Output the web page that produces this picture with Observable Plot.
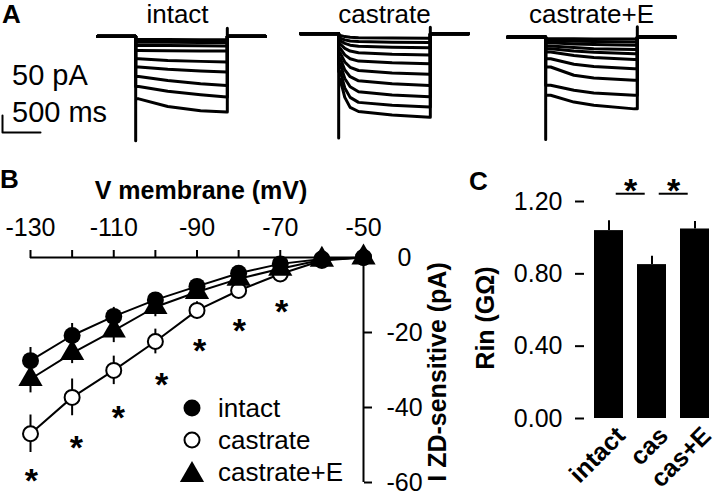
<!DOCTYPE html>
<html><head><meta charset="utf-8">
<script src="https://cdn.jsdelivr.net/npm/d3@7"></script>
<script src="https://cdn.jsdelivr.net/npm/@observablehq/plot@0.6"></script>
<style>
html,body{margin:0;padding:0;background:#fff;}
#root{position:relative;width:720px;height:492px;overflow:hidden;font-family:Arial,"Liberation Sans",sans-serif;color:#000;}
#root > *{position:absolute;}
.legend{left:179px;top:392px;font-size:26px;}
.legend .row{display:flex;align-items:center;height:32px;}
.legend svg{width:26px;height:26px;margin-right:13px;}
</style></head><body><div id="root"></div>
<script>
const FONT = 'Arial, "Liberation Sans", sans-serif';

// ---------- Panel A: current traces (pA vs ms) ----------
const conditions = ["intact", "castrate", "castrate+E"];
const traceStart = -500, stepStart = 0, stepEnd = 1200, traceEnd = 1700;
const baselines = [0, 0.9, -0.2];
const onsetSpike = [-35.4, -35.4, -34.8];
const offsetSpike = [2.7, 2.2, 3.4];

const intactTimes = [40, 420, 850, 1190];
const intactLevels = [
  [-1.1, -1.1, -1.2, -1.2],
  [-2.0, -2.0, -2.1, -2.1],
  [-3.1, -3.1, -3.2, -3.3],
  [-4.8, -4.9, -5.0, -5.0],
  [-7.6, -8.2, -8.5, -8.7],
  [-10.4, -11.2, -11.8, -12.1],
  [-13.6, -15.0, -16.1, -16.7],
  [-17.0, -18.6, -19.8, -20.6],
  [-21.2, -23.8, -25.2, -25.7]
];
const castrateTimes = [20, 80, 150, 260, 700, 1190];
const castrateLevels = [
  [-0.6, -1.0, -1.2, -1.4, -1.5, -1.6],
  [-1.5, -2.1, -2.5, -2.7, -2.9, -3.0],
  [-2.4, -3.3, -3.9, -4.3, -4.6, -4.8],
  [-3.5, -5.0, -5.9, -6.5, -7.0, -7.2],
  [-5.0, -7.2, -8.5, -9.3, -9.9, -10.2],
  [-6.6, -9.6, -11.4, -12.5, -13.3, -13.8],
  [-8.4, -12.3, -14.6, -16.0, -17.0, -17.6],
  [-10.4, -15.2, -18.0, -19.7, -20.8, -21.4],
  [-12.8, -18.4, -21.6, -23.3, -24.3, -24.9],
  [-15.5, -21.6, -25.0, -26.4, -27.6, -28.3]
];
const castrateETimes = [65, 370, 630, 1160];
const castrateELevels = [
  [-0.6, -0.6, -0.7, -0.7],
  [-1.4, -1.5, -1.6, -1.7],
  [-2.0, -2.4, -2.6, -2.8],
  [-3.1, -3.6, -4.0, -4.3],
  [-4.0, -4.8, -5.2, -5.7],
  [-5.1, -6.3, -7.0, -7.7],
  [-7.4, -9.3, -10.0, -10.8],
  [-10.2, -13.0, -13.9, -14.7],
  [-16.4, -18.1, -19.0, -19.8],
  [-19.8, -22.1, -23.2, -24.4]
];
const scaleBarPA = 50, scaleBarMs = 500;

// ---------- Panel B: I-V ----------
const voltages = [-130, -120, -110, -100, -90, -80, -70, -60, -50];
const xTickLabels = [-130, -110, -90, -70, -50];
const yTicksB = [0, -20, -40, -60];
const intactI = [-27.5, -20.8, -15.7, -11.3, -7.7, -4.2, -1.7, -0.4, 0];
const intactSem = [3.5, 3.2, 2.4, 1.9, 1.6, 1.3, 1.0, 0.8, 0];
const castrateI = [-47.0, -37.3, -30.1, -22.4, -14.1, -8.8, -4.4, -0.8, 0];
const castrateSem = [5.0, 4.9, 3.8, 3.3, 2.3, 1.8, 1.4, 0.8, 0];
const castrateEI = [-32.4, -25.5, -19.5, -13.2, -9.2, -5.7, -3.0, -0.6, 0];
const castrateESem = [3.7, 2.8, 3.2, 2.6, 1.8, 1.4, 1.1, 0.8, 0];
const starV = [-129.8, -119, -108.9, -98.5, -89.4, -79.8, -69.7];
const starI = [-57.6, -48.8, -40.8, -32.0, -22.9, -17.6, -12.3];

// ---------- Panel C: input resistance ----------
const groups = ["intact", "cas", "cas+E"];
const rin = [1.039, 0.851, 1.048];
const rinSem = [0.055, 0.046, 0.042];
const yTicksC = [0, 0.4, 0.8, 1.2];
const sigFrom = ["intact", "cas"];
const sigLineY = 1.243, sigStarY = 1.304;

// ---------- build ----------
const root = document.getElementById("root");
const baseStyle = `background:transparent;overflow:visible;font-family:${FONT};font-size:25px;color:black;`;
function place(el, left, top) { el.style.position = "absolute"; el.style.left = left + "px"; el.style.top = top + "px"; root.appendChild(el); }

function traceRows(times, levels, base, down, up) {
  const rows = [];
  levels.forEach((lv, i) => {
    const last = i === levels.length - 1;
    const pts = [[traceStart, base], [stepStart, base]];
    if (last) pts.push([stepStart, base + down]);
    pts.push([stepStart, base + lv[0]]);
    times.forEach((t, j) => pts.push([t, base + lv[j]]));
    pts.push([stepEnd, base + lv[lv.length - 1]]);
    if (last) pts.push([stepEnd, base + up]);
    pts.push([stepEnd, base], [traceEnd, base]);
    pts.forEach(([t, v]) => rows.push({trace: i, t, v}));
  });
  return rows;
}
const traceSets = [
  traceRows(intactTimes, intactLevels, baselines[0], onsetSpike[0], offsetSpike[0]),
  traceRows(castrateTimes, castrateLevels, baselines[1], onsetSpike[1], offsetSpike[1]),
  traceRows(castrateETimes, castrateELevels, baselines[2], onsetSpike[2], offsetSpike[2])
];
const traceLefts = [97, 300, 507];
const titleShift = [-4, 0, 0];
conditions.forEach((name, k) => {
  const p = Plot.plot({
    width: 168, height: 146, marginLeft: 0, marginRight: 0, marginTop: 24, marginBottom: 4,
    x: {domain: [traceStart, traceEnd], axis: null},
    y: {domain: [-36, 4], axis: null},
    style: baseStyle,
    marks: [
      Plot.line(traceSets[k], {x: "t", y: "v", z: "trace", stroke: "black", strokeWidth: 3}),
      Plot.text([name], {text: d => d, frameAnchor: "top", lineAnchor: "middle", textAnchor: "middle", dx: titleShift[k], dy: -10, fontSize: 26})
    ]
  });
  place(p, traceLefts[k], 0);
});

// scale bar
const sb = Plot.plot({
  width: 60, height: 40, marginLeft: 2, marginRight: 20, marginTop: 15, marginBottom: 8,
  x: {domain: [0, scaleBarMs], axis: null},
  y: {domain: [0, scaleBarPA], axis: null},
  style: baseStyle,
  marks: [Plot.line([[0, scaleBarPA], [0, 0], [scaleBarMs, 0]], {stroke: "black", strokeWidth: 2})]
});
place(sb, 0, 100);

// Panel B
function ivRows(I, S) { return voltages.map((v, i) => ({v, i: I[i], s: S[i]})); }
const rowsIntact = ivRows(intactI, intactSem);
const rowsCast = ivRows(castrateI, castrateSem);
const rowsCastE = ivRows(castrateEI, castrateESem);
const stars = starV.map((v, i) => ({v, i: starI[i]}));
const errs = rows => Plot.ruleX(rows, {x: "v", y1: d => d.i - d.s, y2: d => d.i + d.s, stroke: "black", strokeWidth: 2});
const pB = Plot.plot({
  width: 480, height: 332, marginLeft: 30, marginRight: 117, marginTop: 97, marginBottom: 10,
  x: {domain: [-130, -50], label: null},
  y: {domain: [-60, 0], label: null},
  style: baseStyle,
  marks: [
    Plot.ruleY([0], {stroke: "black", strokeWidth: 2}),
    Plot.ruleX([-50], {stroke: "black", strokeWidth: 2}),
    Plot.axisX({anchor: "top", ticks: voltages, tickSize: 8, tickFormat: () => "", strokeWidth: 2, label: null}),
    Plot.axisX({anchor: "top", ticks: xTickLabels, tickSize: 0, tickPadding: 22, tickFormat: d => String(d), fontSize: 25, label: null}),
    Plot.axisY({anchor: "right", ticks: yTicksB, tickSize: 8, tickPadding: 33, textAnchor: "middle", tickFormat: d => String(d), fontSize: 25, strokeWidth: 2, label: null}),
    Plot.text(["V membrane (mV)"], {text: d => d, frameAnchor: "top", dx: 4, dy: -76, fontSize: 25, fontWeight: "bold"}),
    Plot.text(["I ZD-sensitive (pA)"], {text: d => d, frameAnchor: "right", textAnchor: "middle", lineAnchor: "middle", rotate: -90, dx: 74, dy: 2, fontSize: 25, fontWeight: "bold"}),
    Plot.line(rowsCast, {x: "v", y: "i", stroke: "black", strokeWidth: 2}),
    Plot.line(rowsIntact, {x: "v", y: "i", stroke: "black", strokeWidth: 2}),
    Plot.line(rowsCastE, {x: "v", y: "i", stroke: "black", strokeWidth: 2}),
    errs(rowsCast), errs(rowsIntact), errs(rowsCastE),
    Plot.dot(rowsCast, {x: "v", y: "i", r: 7.5, fill: "white", stroke: "black", strokeWidth: 2}),
    Plot.dot(rowsIntact, {x: "v", y: "i", r: 8.5, fill: "black"}),
    Plot.dot(rowsCastE, {x: "v", y: "i", r: 9, symbol: "triangle", fill: "black"}),
    Plot.text(stars, {x: "v", y: "i", text: () => "*", dy: 8, fontSize: 34, fontWeight: "bold"})
  ]
});
place(pB, 0, 160);

// Panel C
const rinRows = groups.map((g, i) => ({g, v: rin[i], s: rinSem[i]}));
const pi = 0.33, po = 0.138;
const rangeC = 128;
const stepC = rangeC / (groups.length - pi + 2 * po);
const sig = sigFrom.map(g => ({g}));
const pC = Plot.plot({
  width: 250, height: 342, marginLeft: 114, marginRight: 8, marginTop: 51, marginBottom: 74,
  x: {domain: groups, paddingInner: pi, paddingOuter: po, align: 0.75, label: null},
  y: {domain: [0, 1.2], label: null},
  style: baseStyle,
  marks: [
    Plot.barY(rinRows, {x: "g", y: "v", fill: "black"}),
    Plot.ruleX(rinRows, {x: "g", y1: "v", y2: d => d.v + d.s, stroke: "black", strokeWidth: 2}),
    Plot.axisY({ticks: yTicksC, tickFormat: d3.format(".2f"), tickSize: 9, tickPadding: 13, fontSize: 25, strokeWidth: 2, line: true, label: null}),
    Plot.axisX({tickSize: 0, tickRotate: -45, tickPadding: 8, dx: 12, dy: 5, fontSize: 25, fontWeight: "bold", line: true, strokeWidth: 2, label: null}),
    Plot.tickY(sig, {x: "g", y: () => sigLineY, dx: stepC / 2, stroke: "black", strokeWidth: 2}),
    Plot.text(sig, {x: "g", y: () => sigStarY, text: () => "*", dx: stepC / 2, dy: 8, fontSize: 34, fontWeight: "bold"}),
    Plot.text(["Rin (GΩ)"], {text: d => d, frameAnchor: "left", textAnchor: "middle", lineAnchor: "middle", rotate: -90, dx: -99, dy: 8, fontSize: 25, fontWeight: "bold"})
  ]
});
place(pC, 470, 150);

// Panel letters and scale-bar labels
const ns = "http://www.w3.org/2000/svg";
const ov = document.createElementNS(ns, "svg");
ov.setAttribute("width", 720); ov.setAttribute("height", 492);
ov.style.cssText = "position:absolute;left:0;top:0;pointer-events:none;overflow:visible;font-family:" + FONT;
[["A", 2, 23, 26, "bold"], ["B", 0, 188, 26, "bold"], ["C", 469, 190, 26, "bold"],
 ["50 pA", 12, 85, 29, "normal"], ["500 ms", 12, 122, 29, "normal"]].forEach(([t, x, y, fs, fw]) => {
  const e = document.createElementNS(ns, "text");
  e.setAttribute("x", x); e.setAttribute("y", y);
  e.setAttribute("font-size", fs); e.setAttribute("font-weight", fw);
  e.textContent = t; ov.appendChild(e);
});
root.appendChild(ov);

// Legend for panel B
const legendItems = [
  {label: "intact", svg: '<circle cx="13" cy="13" r="8.5" fill="black"/>'},
  {label: "castrate", svg: '<circle cx="13" cy="13" r="7.5" fill="white" stroke="black" stroke-width="2"/>'},
  {label: "castrate+E", svg: '<path d="M13,2L25.1,23L0.9,23Z" fill="black"/>'}
];
const lg = document.createElement("div");
lg.className = "legend";
lg.innerHTML = legendItems.map(d => `<div class="row"><svg viewBox="0 0 26 26">${d.svg}</svg><span>${d.label}</span></div>`).join("");
root.appendChild(lg);
</script></body></html>
